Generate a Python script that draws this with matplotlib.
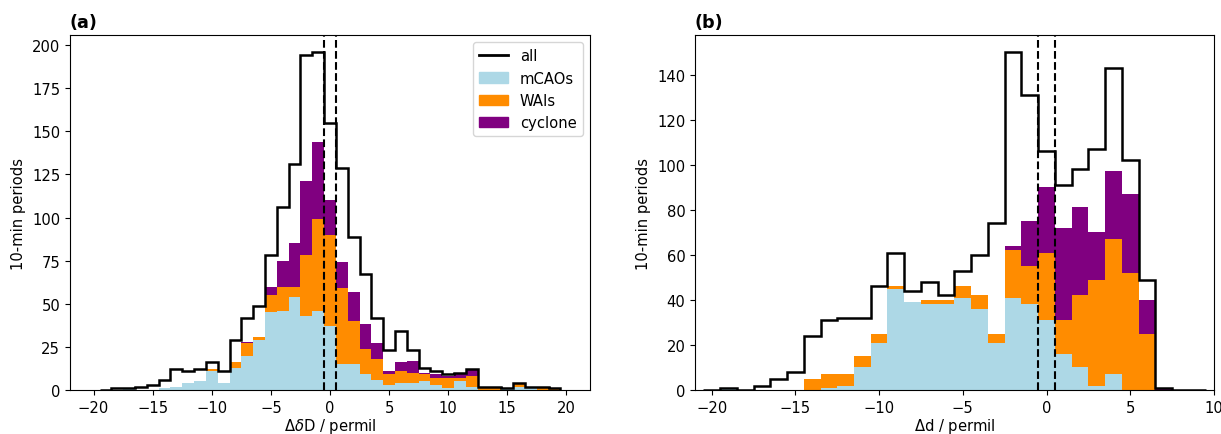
import numpy as np
import matplotlib
matplotlib.use("Agg")
import matplotlib.pyplot as plt
from matplotlib.lines import Line2D
from matplotlib.patches import Patch

plt.rcParams["font.size"] = 10.6

# (a) delta dD, bins of 1 permil centred on -19 ... 19
dD_centres = np.arange(-19, 20)
dD_all = [0, 1, 1, 2, 3, 6, 12, 11, 12, 16, 11, 29, 42, 49, 78, 106, 131, 194, 196,
          155, 129, 89, 67, 42, 23, 34, 23, 13, 11, 9, 10, 12, 2, 2, 1, 4, 2, 2, 1]
dD_mcao = [0, 0, 1, 0, 0, 1, 2, 4, 5, 11, 4, 13, 20, 29, 45, 46, 54, 43, 46,
           37, 15, 15, 9, 6, 3, 4, 4, 5, 3, 1, 5, 2, 0, 0, 1, 2, 2, 0, 0]
dD_wai = [0, 0, 0, 0, 0, 0, 0, 0, 0, 1, 0, 3, 7, 2, 10, 14, 6, 35, 53,
          53, 44, 25, 15, 12, 6, 7, 6, 4, 4, 6, 2, 6, 2, 2, 0, 2, 0, 2, 1]
dD_cyc = [0, 0, 0, 0, 0, 0, 0, 0, 0, 0, 0, 0, 1, 0, 5, 15, 25, 43, 45,
          20, 15, 17, 14, 9, 2, 5, 7, 1, 2, 1, 2, 4, 0, 0, 0, 0, 0, 0, 0]

# (b) d-excess, bins of 1 permil centred on -20 ... 9
d_centres = np.arange(-20, 10)
d_all = [0, 1, 0, 2, 5, 8, 24, 31, 32, 32, 46, 61, 44, 48, 42, 53, 60, 74,
         150, 131, 106, 91, 98, 107, 143, 102, 49, 1, 0, 0]
d_mcao = [0, 1, 0, 0, 0, 0, 0, 1, 2, 10, 21, 45, 39, 38, 38, 41, 36, 21,
          41, 38, 31, 16, 10, 2, 7, 0, 0, 0, 0, 0]
d_wai = [0, 0, 0, 0, 0, 0, 5, 6, 5, 5, 4, 1, 0, 2, 2, 5, 6, 4,
         21, 17, 30, 15, 32, 47, 60, 52, 25, 0, 0, 0]
d_cyc = [0, 0, 0, 0, 0, 0, 0, 0, 0, 0, 0, 0, 0, 0, 0, 0, 0, 0,
         2, 20, 29, 41, 39, 21, 30, 35, 15, 1, 0, 0]

colors = ["lightblue", "darkorange", "purple"]
labels = ["mCAOs", "WAIs", "cyclone"]


def draw_panel(ax, centres, total, parts):
    edges = np.append(centres - 0.5, centres[-1] + 0.5)
    ax.hist([centres] * 3, bins=edges, weights=parts, stacked=True,
            histtype="stepfilled", color=colors)
    ax.hist(centres, bins=edges, weights=total, histtype="step",
            color="k", lw=1.8)
    ax.axvline(-0.5, color="k", ls="--", lw=1.5)
    ax.axvline(0.5, color="k", ls="--", lw=1.5)
    ax.set_ylabel("10-min periods")


fig = plt.figure(figsize=(12.21, 4.35), dpi=100)
ax1 = fig.add_axes([0.0573, 0.1011, 0.4259, 0.816])
ax2 = fig.add_axes([0.5692, 0.1011, 0.4250, 0.816])

draw_panel(ax1, dD_centres, dD_all, [dD_mcao, dD_wai, dD_cyc])
ax1.set_xlim(-22, 22)
ax1.set_xlabel(r"$\Delta\delta$D / permil", labelpad=1)
ax1.set_title("(a)", loc="left", fontweight="bold", fontsize=12.7)

handles = [Line2D([], [], color="k", lw=2, label="all")]
handles += [Patch(color=c, label=l) for c, l in zip(colors, labels)]
ax1.legend(handles=handles, loc="upper right")

draw_panel(ax2, d_centres, d_all, [d_mcao, d_wai, d_cyc])
ax2.set_xlim(-21, 10)
ax2.set_xlabel(r"$\Delta$d / permil", labelpad=1)
ax2.set_title("(b)", loc="left", fontweight="bold", fontsize=12.7)

fig.savefig("out.png", dpi=100)
